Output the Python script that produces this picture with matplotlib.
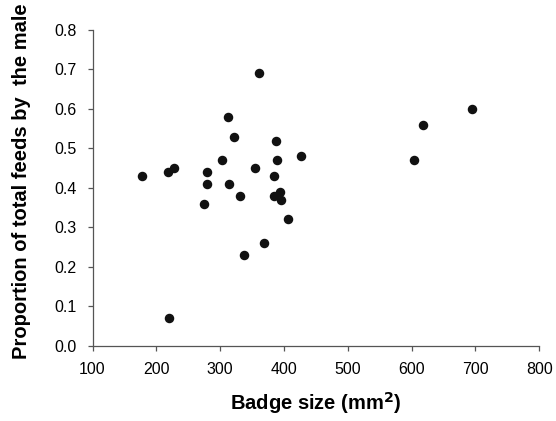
import matplotlib
matplotlib.use("Agg")
import matplotlib.pyplot as plt

# badge size (mm^2) vs proportion of feeds by the male
badge = [177, 218, 227, 220, 279, 280, 275, 303, 313, 314, 322, 331, 338,
         354, 361, 369, 385, 385, 387, 389, 394, 396, 407, 427, 604, 618, 694]
prop = [0.43, 0.44, 0.45, 0.07, 0.44, 0.41, 0.36, 0.47, 0.58, 0.41, 0.53, 0.38, 0.23,
        0.45, 0.69, 0.26, 0.43, 0.38, 0.52, 0.47, 0.39, 0.37, 0.32, 0.48, 0.47, 0.56, 0.60]

xticks = [100, 200, 300, 400, 500, 600, 700, 800]
yticks = [0.0, 0.1, 0.2, 0.3, 0.4, 0.5, 0.6, 0.7, 0.8]

plt.rcParams['font.family'] = ['Liberation Sans', 'DejaVu Sans']

fig = plt.figure(figsize=(5.56, 4.21), dpi=100)
ax = fig.add_axes([0.1664, 0.1789, 0.8036, 0.7498])

ax.scatter(badge, prop, s=34, color='#111111', zorder=3)

ax.set_xlim(100, 800)
ax.set_ylim(0, 0.8)
ax.set_xticks(xticks)
ax.set_yticks(yticks)
ax.set_yticklabels(['{:.1f}'.format(v) for v in yticks])

for s in ['top', 'right']:
    ax.spines[s].set_visible(False)
for s in ['left', 'bottom']:
    ax.spines[s].set_color('#555555')
    ax.spines[s].set_linewidth(0.9)

ax.tick_params(direction='out', length=3.6, width=0.9, color='#555555', labelsize=11.5)
ax.tick_params(axis='y', pad=8)
ax.tick_params(axis='x', pad=8)

ax.set_xlabel('Badge size (mm$^\\mathbf{2}$)', fontsize=14.5, fontweight='bold', va='center')
ax.set_ylabel('Proportion of total feeds by  the male', fontsize=14.5, fontweight='bold', va='center')
ax.xaxis.set_label_coords(0.5, -0.1815)
ax.yaxis.set_label_coords(-0.158, 0.52)

fig.savefig('out.png', dpi=100)
